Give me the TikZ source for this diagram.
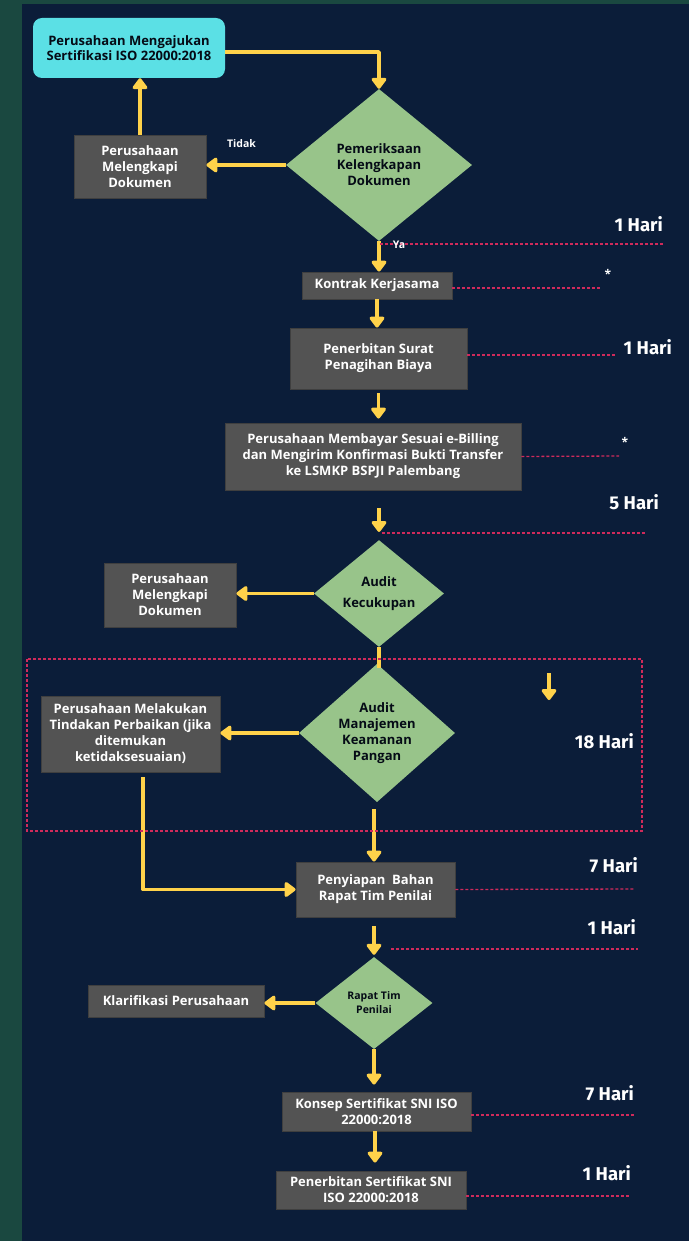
\documentclass[tikz,border=0pt]{standalone}
\usepackage{fontspec}
\setmainfont{Open Sans}
\newfontfamily\harifont{Fira Sans}
\usetikzlibrary{arrows.meta,shapes.geometric}
\definecolor{outergreen}{HTML}{1A4840}
\definecolor{panel}{HTML}{0B1D39}
\definecolor{cyanbox}{HTML}{5BE0E5}
\definecolor{boxgray}{HTML}{535353}
\definecolor{boxedge}{HTML}{3F3F3F}
\definecolor{diagreen}{HTML}{98C48A}
\definecolor{diatext}{HTML}{050B16}
\definecolor{arrowyellow}{HTML}{FFD24A}
\definecolor{dashred}{HTML}{D02A5B}
\begin{document}
\begin{tikzpicture}[x=1pt,y=-1pt,
  box/.style={rectangle, fill=boxgray, draw=boxedge, line width=0.8pt, text=white,
    font=\bfseries\fontsize{13}{16}\selectfont, align=center, inner sep=0pt},
  startbox/.style={rectangle, rounded corners=9pt, fill=cyanbox, text=diatext,
    font=\bfseries\fontsize{13}{15.7}\selectfont, align=center, inner sep=0pt},
  dia/.style={diamond, fill=diagreen, text=diatext, inner sep=0pt,
    font=\bfseries\fontsize{13}{16}\selectfont, align=center},
  arr/.style={draw=arrowyellow, line width=3.6pt, line join=round,
    -{Triangle[width=17pt,length=12pt,round]}},
  plain/.style={draw=arrowyellow, line width=3.6pt},
  redline/.style={draw=dashred, line width=1.3pt, dash pattern=on 3pt off 2pt},
  hari/.style={text=white, font=\harifont\bfseries\fontsize{18.5}{22}\selectfont, inner sep=0pt},
  small/.style={text=white, font=\bfseries\fontsize{10.5}{12}\selectfont, inner sep=0pt}
]
\useasboundingbox (0,0) rectangle (689,1241);
\fill[outergreen] (0,0) rectangle (689,1241);
\fill[panel] (22,4) rectangle (689,1241);

% nodes
\node[startbox, minimum width=192pt, minimum height=60pt] (start) at (129,48)
  {Perusahaan Mengajukan\\Sertifikasi ISO 22000:2018};
\node[dia, minimum width=186pt, minimum height=152pt] (d1) at (379,165)
  {Pemeriksaan\\Kelengkapan\\Dokumen};
\node[box, minimum width=132pt, minimum height=63pt] (g1) at (140,166.5)
  {Perusahaan\\Melengkapi\\Dokumen};
\node[box, minimum width=150pt, minimum height=27pt] (kontrak) at (377,285.5)
  {Kontrak Kerjasama};
\node[box, minimum width=177pt, minimum height=61pt] (surat) at (378.5,358.5)
  {Penerbitan Surat\\Penagihan Biaya};
\node[box, minimum width=296pt, minimum height=67pt] (bayar) at (373,456.5)
  {Perusahaan Membayar Sesuai e-Billing\\dan Mengirim Konfirmasi Bukti Transfer\\ke LSMKP BSPJI Palembang};
\node[dia, minimum width=130pt, minimum height=105pt] (d2) at (379,593.5)
  {Audit\\[5pt]Kecukupan};
\node[box, minimum width=132pt, minimum height=64pt] (g2) at (170,595)
  {Perusahaan\\Melengkapi\\Dokumen};
\node[dia, minimum width=156pt, minimum height=126pt] (d3) at (377,733)
  {Audit\\Manajemen\\Keamanan\\Pangan};
\node[box, minimum width=179pt, minimum height=76pt] (g3) at (130.5,734)
  {Perusahaan Melakukan\\Tindakan Perbaikan (jika\\ditemukan\\ketidaksesuaian)};
\node[box, minimum width=159pt, minimum height=55pt] (penyiapan) at (375.5,889.5)
  {Penyiapan\ \ Bahan\\Rapat Tim Penilai};
\node[dia, minimum width=117pt, minimum height=92pt, font=\bfseries\fontsize{10.5}{14}\selectfont] (d4) at (374,1003)
  {Rapat Tim\\Penilai};
\node[box, minimum width=176pt, minimum height=32pt] (klar) at (176,1001)
  {Klarifikasi Perusahaan};
\node[box, minimum width=189pt, minimum height=39pt] (konsep) at (376.5,1111.5)
  {Konsep Sertifikat SNI ISO\\22000:2018};
\node[box, minimum width=190pt, minimum height=38pt] (terbit) at (371,1190)
  {Penerbitan Sertifikat SNI\\ISO 22000:2018};

% connectors
\draw[arr] ([yshift=-4pt]start.east) -| (d1.north);
\draw[arr] (d1.west) -- (d1.west -| g1.east);
\draw[arr] (g1.north) -- (g1.north |- start.south);
\draw[arr] (d1.south) -- (d1.south |- kontrak.north);
\draw[arr] (kontrak.south) -- (kontrak.south |- surat.north);
\draw[arr, shorten <=4pt, shorten >=4pt] (surat.south) -- (surat.south |- bayar.north);
\draw[arr, shorten <=18pt, shorten >=8pt] (bayar.south -| d2.north) -- (d2.north);
\draw[arr] (d2.west) -- (d2.west -| g2.east);
\draw[plain] (d2.south) -- ([yshift=-4pt]d2.south |- d3.north);
\draw[arr] (d3.west) -- (d3.west -| g3.east);
\draw[arr] ([xshift=12.5pt,yshift=-5pt]g3.south) |- (penyiapan.west);
\draw[arr, shorten <=7pt] ([xshift=-3pt]d3.south) -- ([xshift=-3pt]d3.south |- penyiapan.north);
\draw[arr, shorten <=9pt, shorten >=2pt] (penyiapan.south -| d4.north) -- (d4.north);
\draw[arr] (d4.west) -- (d4.west -| klar.east);
\draw[arr, shorten >=7pt] (d4.south) -- (d4.south |- konsep.north);
\draw[arr, shorten >=8pt] (konsep.south -| 375,0) -- (terbit.north -| 375,0);
\coordinate (sa1) at (549,673);
\coordinate (sa2) at (549,700);
\draw[arr] (sa1) -- (sa2);

% dashed timing lines
\coordinate (r1a) at (380,244); \coordinate (r1b) at (664,244);
\draw[redline] (r1a) -- (r1b);
\coordinate (r2b) at (602,288);
\draw[redline] ([yshift=-2.5pt]kontrak.east) -- (r2b);
\coordinate (r3b) at (615,355);
\draw[redline] ([yshift=3.5pt]surat.east) -- (r3b);
\coordinate (r4b) at (619,456);
\draw[redline] (bayar.east) -- (r4b);
\coordinate (r5a) at (382,533); \coordinate (r5b) at (645,533);
\draw[redline] (r5a) -- (r5b);
\coordinate (r6b) at (635,889);
\draw[redline] (penyiapan.east) -- (r6b);
\coordinate (r7a) at (391,949); \coordinate (r7b) at (638,949);
\draw[redline] (r7a) -- (r7b);
\coordinate (r8b) at (635,1115);
\draw[redline] ([yshift=-3.5pt]konsep.east) -- (r8b);
\coordinate (r9b) at (631,1196);
\draw[redline] ([yshift=-6pt]terbit.east) -- (r9b);
\draw[redline] (27,659) rectangle (642,831);

% labels
\node[small] (tidak) at (241.5,144) {Tidak};
\node[small] (ya) at (399,245) {Ya};
\node[hari, anchor=east] (h1) at (663,224) {1 Hari};
\node[text=white, font=\bfseries\fontsize{12}{12}\selectfont, inner sep=0pt] (st1) at (608,274) {*};
\node[hari, anchor=east] (h2) at (672,347) {1 Hari};
\node[text=white, font=\bfseries\fontsize{12}{12}\selectfont, inner sep=0pt] (st2) at (625,442) {*};
\node[hari, anchor=east] (h3) at (659,502) {5 Hari};
\node[hari, anchor=east] (h4) at (634,741) {18 Hari};
\node[hari, anchor=east] (h5) at (638,865) {7 Hari};
\node[hari, anchor=east] (h6) at (636,927) {1 Hari};
\node[hari, anchor=east] (h7) at (634,1093) {7 Hari};
\node[hari, anchor=east] (h8) at (631,1173) {1 Hari};
\end{tikzpicture}
\end{document}
